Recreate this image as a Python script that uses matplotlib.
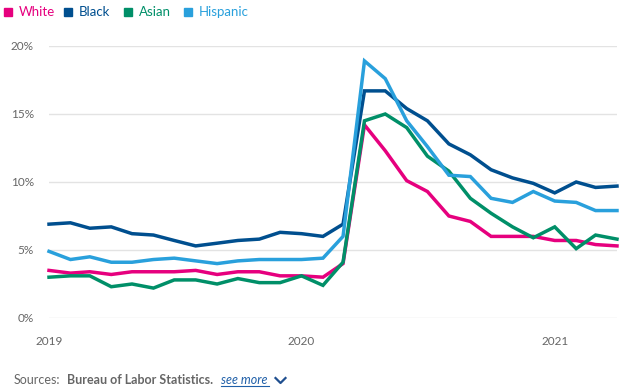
import matplotlib
matplotlib.use("Agg")
import matplotlib.pyplot as plt
import pandas as pd

plt.rcParams['font.family'] = ['Lato', 'DejaVu Sans']

dates = pd.date_range('2019-01-01', periods=28, freq='MS')
white = [3.5, 3.3, 3.4, 3.2, 3.4, 3.4, 3.4, 3.5, 3.2, 3.4, 3.4, 3.1, 3.1, 3.0,
         4.0, 14.2, 12.3, 10.1, 9.3, 7.5, 7.1, 6.0, 6.0, 6.0, 5.7, 5.7, 5.4, 5.3]
black = [6.9, 7.0, 6.6, 6.7, 6.2, 6.1, 5.7, 5.3, 5.5, 5.7, 5.8, 6.3, 6.2, 6.0,
         6.9, 16.7, 16.7, 15.4, 14.5, 12.8, 12.0, 10.9, 10.3, 9.9, 9.2, 10.0, 9.6, 9.7]
asian = [3.0, 3.1, 3.1, 2.3, 2.5, 2.2, 2.8, 2.8, 2.5, 2.9, 2.6, 2.6, 3.1, 2.4,
         4.1, 14.5, 15.0, 14.0, 11.9, 10.8, 8.8, 7.7, 6.7, 5.9, 6.7, 5.1, 6.1, 5.8]
hispanic = [4.9, 4.3, 4.5, 4.1, 4.1, 4.3, 4.4, 4.2, 4.0, 4.2, 4.3, 4.3, 4.3, 4.4,
            6.0, 18.9, 17.6, 14.5, 12.6, 10.5, 10.4, 8.8, 8.5, 9.3, 8.6, 8.5, 7.9, 7.9]

series = [("White", white, "#e6007e"),
          ("Black", black, "#004f8f"),
          ("Asian", asian, "#008f68"),
          ("Hispanic", hispanic, "#29a0dc")]
yticks = [0, 5, 10, 15, 20]
ytick_labels = ["0%", "5%", "10%", "15%", "20%"]
xtick_years = ["2019", "2020", "2021"]

fig = plt.figure(figsize=(6.24, 3.89), dpi=100)
ax = fig.add_axes([49/624, 1-318/389, (617-49)/624, (318-46)/389])

for name, vals, col in series:
    ax.plot(dates, vals, color=col, lw=2.5, solid_joinstyle='miter', clip_on=False, zorder=3)

ax.set_xlim(dates[0], dates[-1])
ax.set_ylim(0, 20)
ax.set_yticks(yticks)
ax.set_yticklabels(ytick_labels)
ax.set_xticks([pd.Timestamp(y + '-01-01') for y in xtick_years])
ax.set_xticklabels(xtick_years)
ax.grid(axis='y', color='#e3e3e3', lw=1)
ax.set_axisbelow(True)
for s in ax.spines.values():
    s.set_visible(False)
ax.tick_params(axis='y', length=0, pad=11, labelsize=8.5, labelcolor='#666666')
ax.tick_params(axis='x', length=0, pad=13, labelsize=8.5, labelcolor='#666666')

# legend
xs = [4, 64, 124, 184]
for (name, vals, col), x0 in zip(series, xs):
    fig.patches.append(plt.Rectangle((x0/624, 1-16/389), 8/624, 8/389,
                                     transform=fig.transFigure, color=col, figure=fig))
    fig.text((x0+15)/624, 1-12/389, name, color=col, fontsize=9.5, va='center', ha='left')

# sources
fig.text(14/624, 1-380/389, "Sources:", color='#666666', fontsize=9, va='center')
fig.text(67/624, 1-380/389, "Bureau of Labor Statistics.", color='#666666', fontsize=9,
         va='center', fontweight='bold')
fig.text(221/624, 1-380/389, "see more", color='#1f5fa8', fontsize=9, va='center',
         style='italic')
fig.lines.append(plt.Line2D([221/624, 269/624], [1-386/389, 1-386/389],
                            transform=fig.transFigure, color='#1f5fa8', lw=0.8))
fig.lines.append(plt.Line2D([275.5/624, 280.5/624, 285.5/624], [1-378/389, 1-383/389, 1-378/389],
                            transform=fig.transFigure, color='#1f4f8f', lw=1.6))

fig.savefig("out.png", dpi=100)
